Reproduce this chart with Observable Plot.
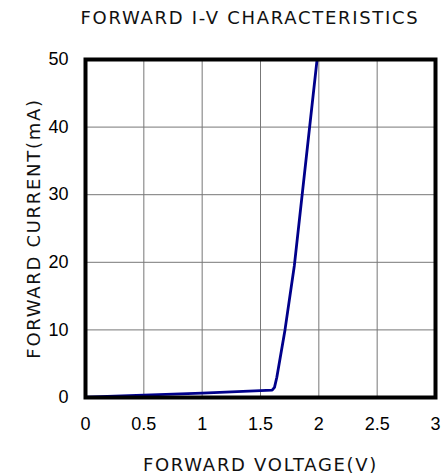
<!DOCTYPE html>
<html><head><meta charset="utf-8">
<script src="https://cdn.jsdelivr.net/npm/d3@7"></script>
<script src="https://cdn.jsdelivr.net/npm/@observablehq/plot@0.6"></script>
<style>
body{margin:0;background:#fff;font-family:"DejaVu Sans",sans-serif;}
#title{width:445px;height:36px;box-sizing:border-box;padding-left:55px;text-align:center;font-family:"DejaVu Sans",sans-serif;font-size:18px;letter-spacing:1.7px;line-height:36px;color:#111;white-space:nowrap;}
</style></head>
<body>
<div id="title">FORWARD I-V CHARACTERISTICS</div>
<div id="chart"></div>
<script>
const voltage = [0, 0.5, 1.0, 1.6, 1.62, 1.64, 1.71, 1.79, 1.985];
const current = [0.05, 0.35, 0.65, 1.1, 1.5, 3, 10, 19.5, 50];
const xTicks = [0, 0.5, 1, 1.5, 2, 2.5, 3];
const yTicks = [0, 10, 20, 30, 40, 50];
const xLabel = "FORWARD VOLTAGE(V)";
const yLabel = "FORWARD CURRENT(mA)";

const data = voltage.map((v, i) => ({v, i: current[i]}));

const chart = Plot.plot({
  width: 445,
  height: 439,
  marginTop: 23,
  marginLeft: 85,
  marginRight: 10,
  marginBottom: 78,
  style: {fontSize: "18px", fontFamily: "'Liberation Sans', Arial, sans-serif", color: "#000", background: "#fff"},
  x: {domain: [0, 3], ticks: xTicks},
  y: {domain: [0, 50], ticks: yTicks},
  marks: [
    Plot.gridX(xTicks, {stroke: "#777", strokeOpacity: 1, strokeWidth: 1}),
    Plot.gridY(yTicks, {stroke: "#777", strokeOpacity: 1, strokeWidth: 1}),
    Plot.line(data, {x: "v", y: "i", stroke: "#00008b", strokeWidth: 2.8}),
    Plot.frame({stroke: "#000", strokeWidth: 4}),
    Plot.axisX(xTicks, {tickSize: 0, tickPadding: 20, label: null, tickFormat: d => String(d)}),
    Plot.axisY(yTicks, {tickSize: 0, tickPadding: 17, label: null, tickFormat: d => String(d)}),
    Plot.text([xLabel], {frameAnchor: "bottom", textAnchor: "middle", lineAnchor: "middle", dy: 68, text: d => d, fontFamily: "DejaVu Sans", fontSize: 18, fill: "#111"}),
    Plot.text([yLabel], {frameAnchor: "left", textAnchor: "middle", lineAnchor: "middle", dx: -51, rotate: -90, text: d => d, fontFamily: "DejaVu Sans", fontSize: 18, fill: "#111"})
  ]
});
d3.select(chart).selectAll("text").filter(function() {
  return this.textContent === xLabel || this.textContent === yLabel;
}).attr("letter-spacing", "1.7px");
document.getElementById("chart").appendChild(chart);
</script>
</body></html>
